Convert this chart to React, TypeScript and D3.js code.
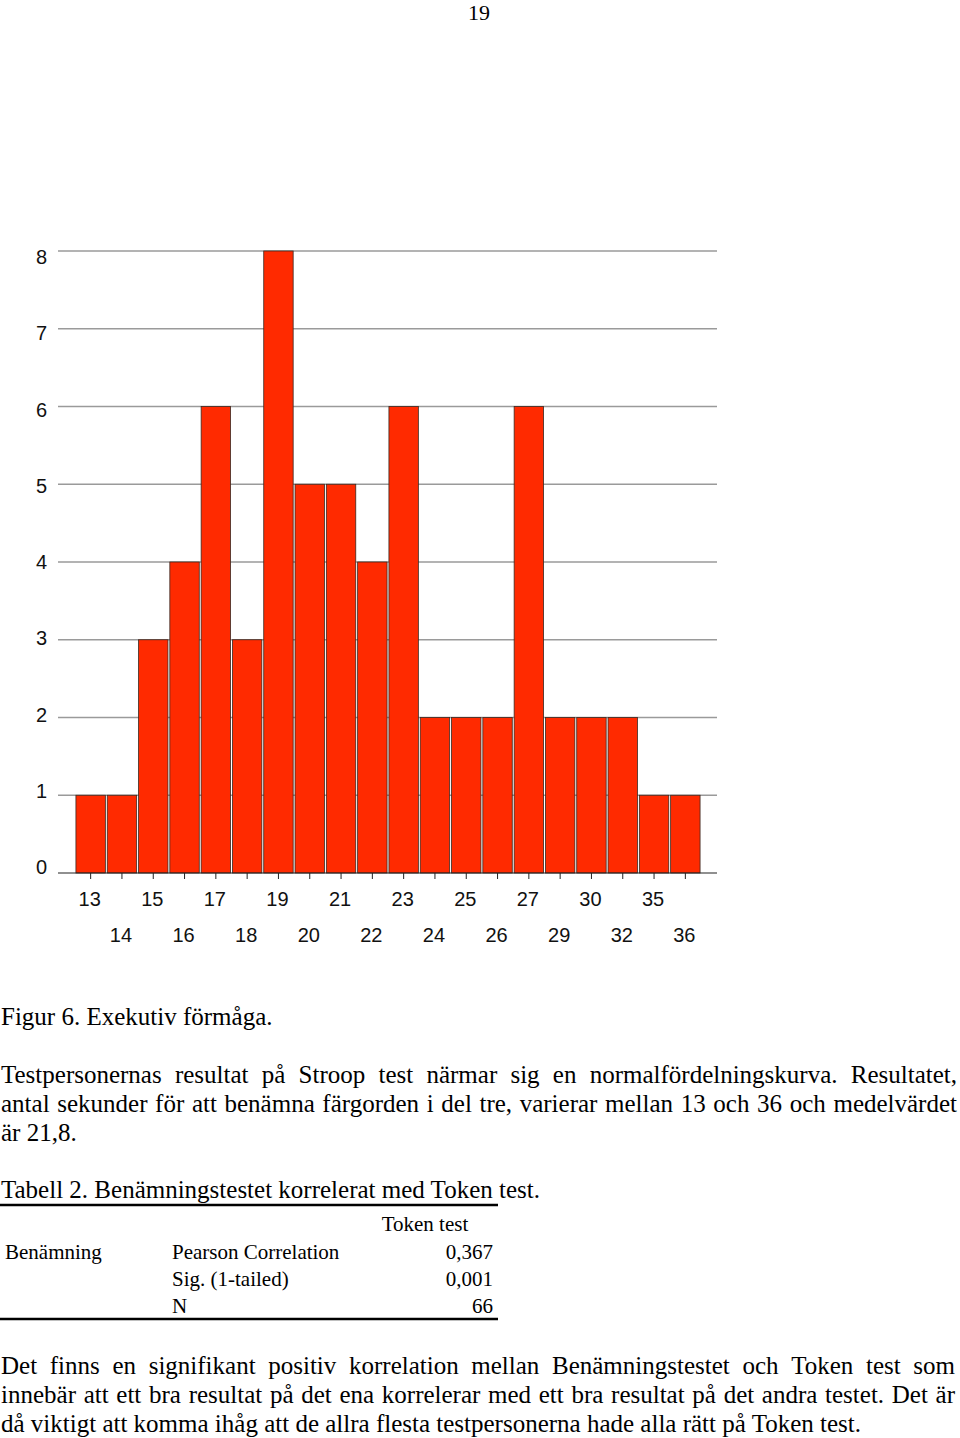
import React, { useEffect, useRef } from "react";
import * as d3 from "d3";

const categories = ["13","14","15","16","17","18","19","20","21","22","23","24","25","26","27","29","30","32","35","36"];
const counts = [1,1,3,4,6,3,8,5,5,4,6,2,2,2,6,2,2,2,1,1];
const yTicks = [0,1,2,3,4,5,6,7,8];

const pageNumber = "19";
const caption = "Figur 6. Exekutiv förmåga.";
const para1 = [
  "Testpersonernas resultat på Stroop test närmar sig en normalfördelningskurva. Resultatet,",
  "antal sekunder för att benämna färgorden i del tre, varierar mellan 13 och 36 och medelvärdet",
  "är 21,8.",
];
const tableTitle = "Tabell 2. Benämningstestet korrelerat med Token test.";
const tableHeader = "Token test";
const tableRowLabel = "Benämning";
const tableStats = ["Pearson Correlation", "Sig. (1-tailed)", "N"];
const tableValues = ["0,367", "0,001", "66"];
const para2 = [
  "Det finns en signifikant positiv korrelation mellan Benämningstestet och Token test som",
  "innebär att ett bra resultat på det ena korrelerar med ett bra resultat på det andra testet. Det är",
  "då viktigt att komma ihåg att de allra flesta testpersonerna hade alla rätt på Token test.",
];

const W = 960, H = 1438;
const serif = "'Liberation Serif', 'Times New Roman', serif";
const sans = "'Liberation Sans', Arial, sans-serif";

export default function App() {
  const ref = useRef<SVGSVGElement>(null);

  useEffect(() => {
    const svg = d3.select(ref.current);
    svg.selectAll("*").remove();

    // page number
    svg.append("text").attr("x", 479).attr("y", 20).attr("text-anchor", "middle")
      .attr("font-family", serif).attr("font-size", 22).text(pageNumber);

    // chart
    const x = d3.scaleBand<string>().domain(categories).range([75, 701]).paddingInner(0.06).paddingOuter(0.03);
    const y = d3.scaleLinear().domain([0, 8]).range([873, 251]);
    // tick labels in the reference sit on a slightly compressed scale
    const yLab = d3.scaleLinear().domain([0, 8]).range([867, 257]);
    const gridX0 = 58, gridX1 = 717;

    const g = svg.append("g");
    g.selectAll("line.grid").data(yTicks.filter(d => d > 0)).join("line")
      .attr("x1", gridX0).attr("x2", gridX1)
      .attr("y1", d => y(d)).attr("y2", d => y(d))
      .attr("stroke", "#9a9a9a").attr("stroke-width", 1.5);

    g.selectAll("text.ylab").data(yTicks).join("text")
      .attr("x", 47).attr("y", d => yLab(d) + 7).attr("text-anchor", "end")
      .attr("font-family", sans).attr("font-size", 20).attr("fill", "#111")
      .text(d => String(d));

    g.selectAll("rect.bar").data(categories).join("rect")
      .attr("x", d => x(d)!).attr("width", x.bandwidth())
      .attr("y", (d, i) => y(counts[i])).attr("height", (d, i) => y(0) - y(counts[i]))
      .attr("fill", "#ff2a00").attr("stroke", "#3a2a22").attr("stroke-width", 0.8);

    g.append("line").attr("x1", gridX0).attr("x2", gridX1).attr("y1", y(0)).attr("y2", y(0))
      .attr("stroke", "#222").attr("stroke-width", 1.2);

    g.selectAll("line.tick").data(categories).join("line")
      .attr("x1", d => x(d)! + x.bandwidth() / 2).attr("x2", d => x(d)! + x.bandwidth() / 2)
      .attr("y1", y(0)).attr("y2", y(0) + 6)
      .attr("stroke", "#222").attr("stroke-width", 1);

    g.selectAll("text.xlab").data(categories).join("text")
      .attr("x", d => x(d)! + x.bandwidth() / 2 - 1)
      .attr("y", (d, i) => (i % 2 === 0 ? 906 : 942))
      .attr("text-anchor", "middle").attr("font-family", sans).attr("font-size", 20).attr("fill", "#111")
      .text(d => d);

    // text blocks
    const fs = 25;
    const addLine = (txt: string, yy: number, justify: boolean, x0 = 1, x1 = 957, size = fs) => {
      if (!justify) {
        svg.append("text").attr("x", x0).attr("y", yy).attr("font-family", serif).attr("font-size", size).text(txt);
        return;
      }
      const words = txt.split(" ");
      const grp = svg.append("g");
      const nodes = words.map(w => grp.append("text").attr("y", yy).attr("font-family", serif).attr("font-size", size).text(w));
      const widths = nodes.map(n => (n.node() as SVGTextElement).getComputedTextLength());
      const total = d3.sum(widths);
      const gap = (x1 - x0 - total) / (words.length - 1);
      let cx = x0;
      nodes.forEach((n, i) => { n.attr("x", cx); cx += widths[i] + gap; });
    };

    addLine(caption, 1025, false);
    para1.forEach((l, i) => addLine(l, 1083 + i * 29, i < 2));
    addLine(tableTitle, 1198, false);
    svg.append("line").attr("x1", 0).attr("x2", 498).attr("y1", 1205).attr("y2", 1205).attr("stroke", "#000").attr("stroke-width", 2.5);

    const tfs = 21;
    svg.append("text").attr("x", 425).attr("y", 1231).attr("text-anchor", "middle").attr("font-family", serif).attr("font-size", tfs).text(tableHeader);
    svg.append("text").attr("x", 5).attr("y", 1259).attr("font-family", serif).attr("font-size", tfs).text(tableRowLabel);
    tableStats.forEach((s, i) => {
      svg.append("text").attr("x", 172).attr("y", 1259 + i * 27).attr("font-family", serif).attr("font-size", tfs).text(s);
      svg.append("text").attr("x", 493).attr("y", 1259 + i * 27).attr("text-anchor", "end").attr("font-family", serif).attr("font-size", tfs).text(tableValues[i]);
    });
    svg.append("line").attr("x1", 0).attr("x2", 498).attr("y1", 1319).attr("y2", 1319).attr("stroke", "#000").attr("stroke-width", 2.5);

    para2.forEach((l, i) => addLine(l, 1374 + i * 29, i < 2, 1, 955));
  }, []);

  return (
    <svg ref={ref} width={W} height={H} style={{ position: "absolute", left: 0, top: 0, background: "#fff" }} />
  );
}
